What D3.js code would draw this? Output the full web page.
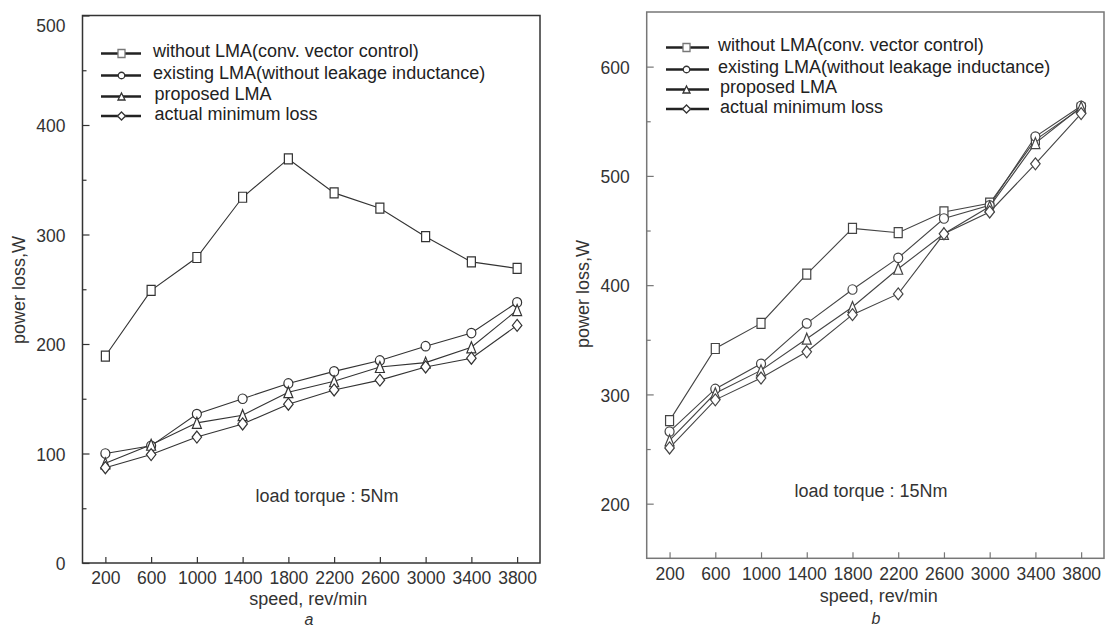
<!DOCTYPE html>
<html>
<head>
<meta charset="utf-8">
<script src="https://cdn.jsdelivr.net/npm/d3@7"></script>
<style>
  html, body { margin: 0; padding: 0; background: #fff; }
  svg { display: block; font-family: "Liberation Sans", Arial, Helvetica, sans-serif; }
</style>
</head>
<body>
<svg id="chart" width="1106" height="631"></svg>
<script>
// Speed steps shared by both panels (rev/min)
const speeds = [200, 600, 1000, 1400, 1800, 2200, 2600, 3000, 3400, 3800];

const seriesNames = [
  "without LMA(conv. vector control)",
  "existing LMA(without leakage inductance)",
  "proposed LMA",
  "actual minimum loss"
];
const seriesShapes = ["square", "circle", "triangle", "diamond"];

// Panel a: load torque 5 Nm, power loss in W
const lossA_without  = [189, 249, 279, 334, 369, 338, 324, 298, 275, 269];
const lossA_existing = [100, 107, 136, 150, 164, 175, 185, 198, 210, 238];
const lossA_proposed = [91, 108, 128, 135, 156, 166, 179, 183, 197, 231];
const lossA_actual   = [87, 99, 115, 127, 145, 158, 167, 179, 187, 217];

// Panel b: load torque 15 Nm, power loss in W
const lossB_without  = [276, 342, 365, 410, 452, 448, 467, 475, 533, 562];
const lossB_existing = [266, 305, 328, 365, 396, 425, 461, 473, 536, 564];
const lossB_proposed = [258, 301, 322, 351, 380, 415, 447, 472, 530, 563];
const lossB_actual   = [251, 295, 315, 339, 373, 392, 447, 467, 511, 557];

const yTicksA = [0, 100, 200, 300, 400, 500];
const yMinorA = [50, 150, 250, 350, 450];
const yTicksB = [200, 300, 400, 500, 600];
const yMinorB = [250, 350, 450, 550];

const svg = d3.select("#chart");

// marker path builder: w/h are full width and height
function markerPath(shape, w, h) {
  const a = w / 2, b = h / 2;
  if (shape === "square") return `M${-a},${-b}H${a}V${b}H${-a}Z`;
  if (shape === "circle") return `M${-a},0A${a},${b} 0 1,0 ${a},0A${a},${b} 0 1,0 ${-a},0Z`;
  if (shape === "triangle") return `M0,${-b}L${a},${b}L${-a},${b}Z`;
  return `M0,${-b}L${a},0L0,${b}L${-a},0Z`;
}
const plotSize = { square: [8, 10], circle: [9, 9.5], triangle: [9, 11], diamond: [9.5, 12] };
const legendSize = { square: [7, 8], circle: [6.5, 6.5], triangle: [7, 7], diamond: [8, 8] };

function drawPanel(p) {
  const g = svg.append("g");
  const x = d3.scaleLinear().domain([0, 4000]).range([p.left, p.right]);
  const y = d3.scaleLinear().domain(p.yDomain).range([p.bottom, p.top]);

  // frame
  g.append("rect")
    .attr("x", p.left).attr("y", p.top)
    .attr("width", p.right - p.left).attr("height", p.bottom - p.top)
    .attr("fill", "none").attr("stroke", p.frameColor).attr("stroke-width", 1.5);

  // y axis: inward ticks
  const yAxis = d3.axisLeft(y).tickValues(p.yTicks).tickSize(-7).tickPadding(17)
    .tickFormat(d3.format("d"));
  const ya = g.append("g").attr("transform", `translate(${p.left},0)`).call(yAxis);
  ya.select(".domain").remove();
  ya.selectAll(".tick line").attr("stroke", p.frameColor).attr("stroke-width", 1.2);
  ya.selectAll(".tick text").attr("font-size", 17.5).attr("fill", "#333")
    .attr("font-family", "Liberation Sans, Arial, sans-serif")
    .attr("dy", d => (d === p.yDomain[1] ? 9 : 0) + 2 + "px")
    .attr("dominant-baseline", "middle");
  const yMinor = d3.axisLeft(y).tickValues(p.yMinor).tickSize(-4).tickFormat("");
  const ym = g.append("g").attr("transform", `translate(${p.left},0)`).call(yMinor);
  ym.select(".domain").remove();
  ym.selectAll(".tick line").attr("stroke", p.frameColor).attr("stroke-width", 1.2);

  // x axis: inward ticks
  const xAxis = d3.axisBottom(x).tickValues(speeds).tickSize(-6).tickPadding(p.xPad)
    .tickFormat(d3.format("d"));
  const xa = g.append("g").attr("transform", `translate(0,${p.bottom})`).call(xAxis);
  xa.select(".domain").remove();
  xa.selectAll(".tick line").attr("stroke", p.frameColor).attr("stroke-width", 1.2);
  xa.selectAll(".tick text").attr("font-size", 17.5).attr("fill", "#333")
    .attr("font-family", "Liberation Sans, Arial, sans-serif");

  // series lines then markers
  const line = d3.line().x((d, i) => x(speeds[i])).y(d => y(d));
  p.series.forEach(vals => {
    g.append("path").datum(vals).attr("d", line)
      .attr("fill", "none").attr("stroke", p.lineColor).attr("stroke-width", 1.1);
  });
  p.series.forEach((vals, si) => {
    const shape = seriesShapes[si];
    const [w, h] = plotSize[shape];
    g.append("g").selectAll("path").data(vals).join("path")
      .attr("transform", (d, i) => `translate(${x(speeds[i])},${y(d)})`)
      .attr("d", markerPath(shape, w, h))
      .attr("fill", "#fff").attr("stroke", p.lineColor).attr("stroke-width", 1.2);
  });

  // legend
  seriesNames.forEach((name, i) => {
    const ly = p.legend.rows[i];
    const lg = g.append("g");
    lg.append("line").attr("x1", p.legend.x1).attr("x2", p.legend.x2)
      .attr("y1", ly).attr("y2", ly).attr("stroke", "#222").attr("stroke-width", 2.6);
    const shape = seriesShapes[i];
    const [w, h] = legendSize[shape];
    lg.append("path").attr("transform", `translate(${p.legend.mx},${ly})`)
      .attr("d", markerPath(shape, w, h))
      .attr("fill", "#fff").attr("stroke", i === 0 ? "#777" : "#333").attr("stroke-width", 1.3);
    lg.append("text").attr("x", p.legend.tx[i]).attr("y", ly - 1)
      .attr("dominant-baseline", "middle").attr("font-size", 18).attr("fill", "#222")
      .text(name);
  });

  // annotation
  g.append("text").attr("x", p.note.x).attr("y", p.note.y)
    .attr("text-anchor", "middle").attr("dominant-baseline", "middle")
    .attr("font-size", 18).attr("fill", "#333").text(p.note.text);

  // axis titles
  g.append("text").attr("x", (p.left + p.right) / 2 + p.xTitleShift).attr("y", p.xTitleY)
    .attr("text-anchor", "middle").attr("dominant-baseline", "middle")
    .attr("font-size", 18).attr("fill", "#333").text("speed, rev/min");
  g.append("text")
    .attr("transform", `translate(${p.yTitleX},${p.yTitleY}) rotate(-90)`)
    .attr("text-anchor", "middle").attr("dominant-baseline", "middle")
    .attr("font-size", 18).attr("fill", "#333").text("power loss,W");
  g.append("text").attr("x", p.tag.x).attr("y", p.tag.y)
    .attr("text-anchor", "middle").attr("dominant-baseline", "middle")
    .attr("font-size", 16).attr("font-style", "italic").attr("fill", "#333").text(p.tag.text);
}

drawPanel({
  left: 82.5, right: 540, top: 15.5, bottom: 563,
  yDomain: [0, 500], yTicks: yTicksA, yMinor: yMinorA,
  frameColor: "#333", lineColor: "#333", xPad: 9,
  series: [lossA_without, lossA_existing, lossA_proposed, lossA_actual],
  legend: { x1: 101, x2: 141, mx: 121.5, rows: [53.5, 75.5, 96.5, 116], tx: [153, 153, 154.5, 154.5] },
  note: { x: 327, y: 497, text: "load torque : 5Nm" },
  xTitleShift: -3, xTitleY: 600,
  yTitleX: 20, yTitleY: 290,
  tag: { x: 309, y: 621, text: "a" }
});

drawPanel({
  left: 646.7, right: 1104, top: 12, bottom: 558.3,
  yDomain: [150, 650], yTicks: yTicksB, yMinor: yMinorB,
  frameColor: "#777", lineColor: "#444", xPad: 9,
  series: [lossB_without, lossB_existing, lossB_proposed, lossB_actual],
  legend: { x1: 666, x2: 709, mx: 686.5, rows: [47.5, 69.5, 89.5, 109], tx: [718, 718, 720, 720] },
  note: { x: 871, y: 492.5, text: "load torque : 15Nm" },
  xTitleShift: 3.5, xTitleY: 597,
  yTitleX: 584, yTitleY: 294,
  tag: { x: 876, y: 620, text: "b" }
});
</script>
</body>
</html>
